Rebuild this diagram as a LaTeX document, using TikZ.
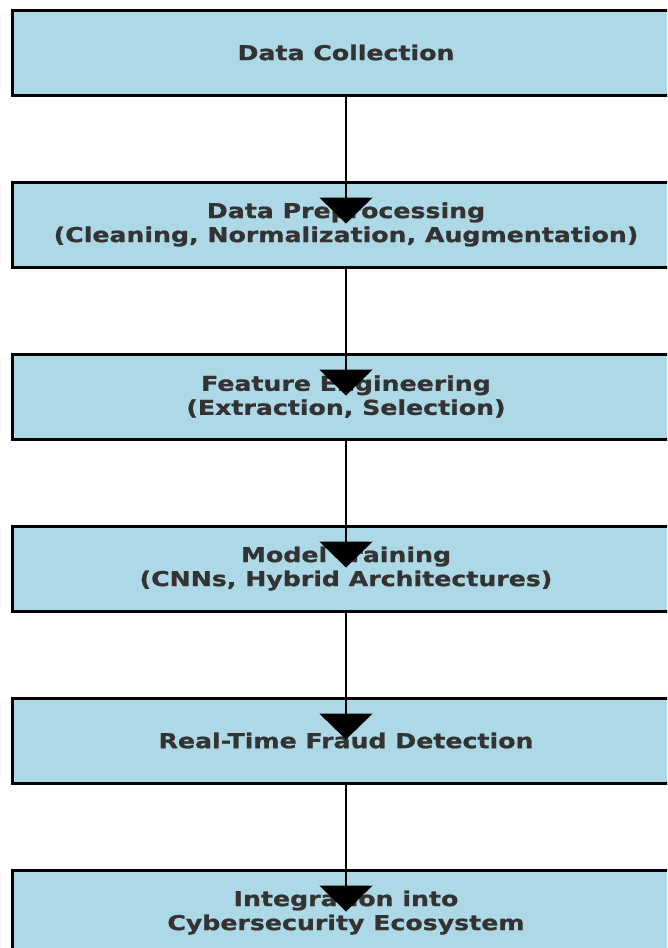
\documentclass[tikz,border=0pt]{standalone}
\usepackage{fontspec}
\setmainfont{DejaVu Sans}
\newfontfamily\boxfont{DejaVu Sans Bold}[FakeStretch=1.23,FakeBold=1]
\usetikzlibrary{arrows.meta}
\definecolor{boxfill}{HTML}{ADD8E6}
\definecolor{txt}{HTML}{333333}
\tikzset{
  stagebox/.style={draw=black, line width=3pt, fill=boxfill, rectangle,
    minimum width=667pt, minimum height=85pt, inner sep=0pt,
    text=txt, align=center, font=\boxfont\fontsize{20.5}{24}\selectfont},
  flowarrow/.style={draw=black, line width=2pt,
    -{Triangle[width=53pt,length=26pt]}}
}
\begin{document}
\begin{tikzpicture}[x=1pt,y=-1pt]
\useasboundingbox (0,0) rectangle (667,948);
\clip (0,0) rectangle (667,948);
\fill[white] (0,0) rectangle (667,948);
\node[stagebox] (b1) at (346,52.5) {Data Collection};
\node[stagebox] (b2) at (346,224.5) {Data Preprocessing\\(Cleaning, Normalization, Augmentation)};
\node[stagebox] (b3) at (346,396.5) {Feature Engineering\\(Extraction, Selection)};
\node[stagebox] (b4) at (346,568.5) {Model Training\\(CNNs, Hybrid Architectures)};
\node[stagebox] (b5) at (346,740.5) {Real-Time Fraud Detection};
\node[stagebox] (b6) at (346,912.5) {Integration into\\Cybersecurity Ecosystem};
\foreach \a/\b in {b1/b2,b2/b3,b3/b4,b4/b5,b5/b6}{
  \coordinate (t\b) at ([yshift=-43pt]\b.north);
  \draw[flowarrow] (\a.south) -- (t\b);
}
\end{tikzpicture}
\end{document}
